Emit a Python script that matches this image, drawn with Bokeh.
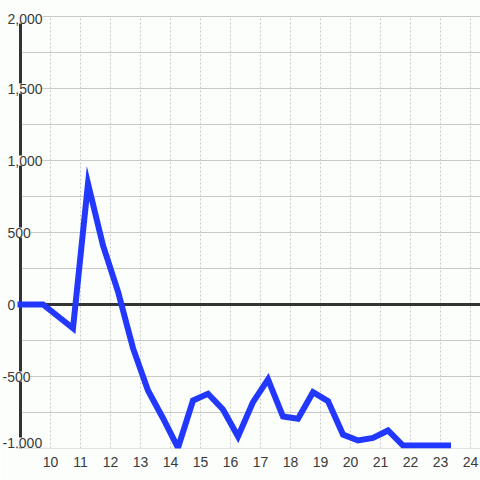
from bokeh.plotting import figure
from bokeh.models import Range1d, FixedTicker, LabelSet, ColumnDataSource
from bokeh.core.properties import value
from bokeh.embed import file_html
from bokeh.resources import INLINE

# ---- data ----
hours = [9, 9.75, 10.75, 11.25, 11.75, 12.25, 12.75, 13.25, 13.75, 14.25,
         14.75, 15.25, 15.75, 16.25, 16.75, 17.25, 17.75, 18.25, 18.75, 19.25,
         19.75, 20.25, 20.75, 21.25, 21.75, 22.25, 22.75, 23.25]
values = [0, 0, -165, 840, 410, 90, -303, -597, -790, -995,
          -667, -620, -729, -917, -678, -520, -778, -794, -609, -671,
          -903, -944, -926, -875, -980, -980, -980, -980]

x_ticks = [10, 11, 12, 13, 14, 15, 16, 17, 18, 19, 20, 21, 22, 23, 24]
x_tick_labels = [str(t) for t in x_ticks]
y_ticks = [-1000, -500, 0, 500, 1000, 1500, 2000]
y_tick_labels = ["-1,000", "-500", "0", "500", "1,000", "1,500", "2,000"]
y_grid = [-1000, -750, -500, -250, 0, 250, 500, 750, 1000, 1250, 1500, 1750, 2000]

BG = "#fcfefc"
GRID = "#c8c8c8"
DARK = "#333333"
TEXT = "#3a3a3a"
BLUE = "#2238ff"
FONT = "Liberation Sans"

x0, x1 = 9, 9 + 460 / 30          # plotted x extent (axis at x0)
y0, y1 = min(y_ticks), max(y_ticks)
px_x = 30.0                          # pixels per hour
px_y = 432.0 / (y1 - y0)             # pixels per unit

p = figure(width=480, height=480, output_backend="svg", toolbar_location=None,
           x_range=Range1d(x0 - 20 / px_x, x1),
           y_range=Range1d(y0, y1 + 16 / px_y),
           y_axis_location=None,
           min_border_left=0, min_border_right=0,
           min_border_top=0, min_border_bottom=32,
           background_fill_color=BG, border_fill_color=BG,
           outline_line_color=None)

p.xgrid.visible = False
p.ygrid.visible = False

# horizontal grid lines (from the axis to the right edge)
p.segment(x0=[x0] * len(y_grid), y0=y_grid, x1=[x1] * len(y_grid), y1=y_grid,
          line_color=GRID, line_width=1)
# vertical dotted grid lines
p.segment(x0=x_ticks, y0=[y0] * len(x_ticks), x1=x_ticks, y1=[y1] * len(x_ticks),
          line_color=GRID, line_width=1, line_dash="2 2")

# x axis: labels only
xa = p.xaxis[0]
xa.ticker = FixedTicker(ticks=x_ticks)
xa.major_label_overrides = {t: l for t, l in zip(x_ticks, x_tick_labels)}
xa.axis_line_color = None
xa.major_tick_line_color = None
xa.minor_tick_line_color = None
xa.major_tick_out = 0
xa.major_tick_in = 0
xa.major_label_standoff = 8
xa.major_label_text_font = FONT
xa.major_label_text_font_size = "14px"
xa.major_label_text_color = TEXT

# zero line and vertical axis line
p.segment(x0=[x0], y0=[0], x1=[x1], y1=[0], line_color=DARK, line_width=3)
p.segment(x0=[x0], y0=[y0], x1=[x0], y1=[y1], line_color=DARK, line_width=3)

# data line
p.line(hours, values, line_color=BLUE, line_width=6, line_join="miter", line_cap="square")

# y tick labels drawn over the axis with a background box
y_off = [6 if v == y0 else (-2 if v == y1 else 0) for v in y_ticks]
x_off = [-18 if v < 0 else -13 for v in y_ticks]
lsrc = ColumnDataSource(dict(x=[x0] * len(y_ticks), y=y_ticks, text=y_tick_labels,
                             xo=x_off, yo=y_off))
labels = LabelSet(x="x", y="y", text="text", source=lsrc, x_offset="xo", y_offset="yo",
                  text_align="left", text_baseline="middle",
                  text_font=value(FONT), text_font_size=value("14px"), text_color=TEXT,
                  background_fill_color=BG)
p.add_layout(labels)

open("out.html", "w").write(file_html(p, INLINE))
